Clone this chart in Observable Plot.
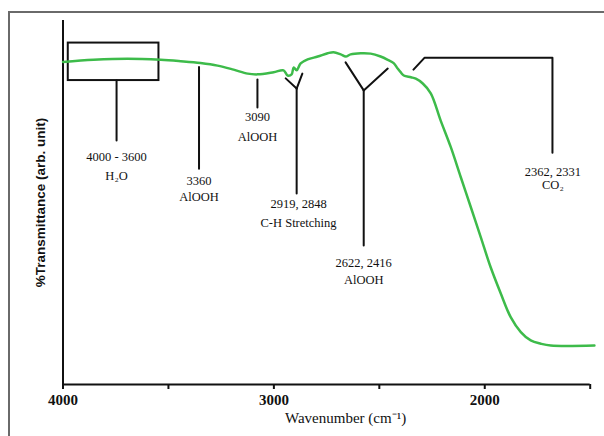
<!DOCTYPE html>
<html>
<head>
<meta charset="utf-8">
<script src="https://cdn.jsdelivr.net/npm/d3@7"></script>
<script src="https://cdn.jsdelivr.net/npm/@observablehq/plot@0.6"></script>
<style>
  html, body { margin: 0; padding: 0; background: #fff; }
  #wrap { position: relative; width: 604px; height: 436px; overflow: hidden; }
  #frame { position: absolute; left: 8px; top: 11px; width: 700px; height: 600px;
           border-left: 2px solid #6a6a6a; border-top: 2px solid #6a6a6a; }
  #chart { position: absolute; left: 0; top: 0; }
</style>
</head>
<body>
<div id="wrap"><div id="frame"></div><div id="chart"></div></div>
<script>
// FTIR spectrum (wavenumber in cm^-1, transmittance in arbitrary units)
const wavenumber = [4000, 3855, 3694, 3537, 3442, 3348, 3267, 3191, 3124, 3077, 3001, 2954, 2935, 2916, 2906, 2892, 2873, 2840, 2792, 2745, 2717, 2683, 2659, 2636, 2588, 2541, 2494, 2460, 2432, 2413, 2399, 2384, 2350, 2327, 2294, 2256, 2209, 2161, 2114, 2066, 2019, 1972, 1924, 1877, 1829, 1782, 1734, 1687, 1480];
const transmittance = [88.6, 89.2, 89.5, 89.2, 88.8, 88.3, 87.6, 86.5, 85.4, 85.2, 85.8, 86.3, 84.9, 85.2, 87.1, 86.3, 88.2, 89.3, 90.1, 91.0, 91.3, 90.7, 90.1, 90.7, 91.0, 90.9, 90.1, 89.2, 88.3, 86.8, 85.8, 84.9, 84.4, 84.0, 82.7, 80.0, 72.5, 65.2, 57.0, 48.7, 40.5, 32.2, 25.0, 18.5, 14.4, 12.1, 11.2, 10.7, 10.7];

// Axis ticks
const tickValues = [4000, 3500, 3000, 2500, 2000, 1500];
const tickLabels = ["4000", "", "3000", "", "2000", ""];

// H2O region box (4000 - 3600)
const boxWn = [3975, 3545];
const boxT = [83.5, 93.8];

// Annotation leader lines (polylines, grouped by id)
const leaderId = ["h2o","h2o", "a3360","a3360", "a3090","a3090",
  "ch1","ch1", "ch2","ch2", "ch3","ch3",
  "al1","al1", "al2","al2", "al3","al3",
  "co2","co2","co2","co2"];
const leaderWn = [3746, 3746, 3355, 3355, 3078, 3078,
  2944, 2892, 2865, 2892, 2892, 2892,
  2660, 2574, 2460, 2574, 2574, 2574,
  2338, 2285, 1679, 1679];
const leaderT = [83.5, 67.0, 87.2, 59.3, 83.8, 76.1,
  84.1, 81.3, 85.4, 81.3, 81.3, 52.5,
  88.5, 80.8, 86.8, 80.8, 80.8, 38.2,
  86.5, 89.8, 89.8, 63.7];

// Annotation labels
const labelText = ["4000 - 3600", "H\u2082O", "3360", "AlOOH", "3090", "AlOOH",
  "2919, 2848", "C-H Stretching", "2622, 2416", "AlOOH", "2362, 2331", "CO\u2082"];
const labelWn = [3746, 3746, 3355, 3355, 3078, 3078, 2883, 2883, 2574, 2574, 1677, 1677];
const labelT = [62.6, 57.4, 56.0, 51.4, 73.4, 68.1, 49.5, 44.5, 33.5, 28.6, 58.5, 54.9];

const spectrum = wavenumber.map((w, i) => ({w, t: transmittance[i]}));
const leaders = leaderId.map((id, i) => ({id, w: leaderWn[i], t: leaderT[i]}));
const labels = labelText.map((s, i) => ({s, w: labelWn[i], t: labelT[i]}));
const tickFmt = new Map(tickValues.map((v, i) => [v, tickLabels[i]]));

const serif = "'Liberation Serif', 'Times New Roman', serif";

const chart = Plot.plot({
  width: 604,
  height: 436,
  marginLeft: 62.5,
  marginRight: 14.3,
  marginTop: 20,
  marginBottom: 52,
  style: {background: "transparent", overflow: "visible"},
  x: {domain: [4000, 1500], axis: null},
  y: {domain: [0, 100], axis: null},
  marks: [
    Plot.axisX({ticks: tickValues, tickFormat: d => tickFmt.get(d), tickSize: 5, tickPadding: 5,
      stroke: "#111", strokeWidth: 2, fill: "#111", fontSize: 15, fontWeight: "bold",
      fontFamily: serif, label: null}),
    Plot.ruleY([0], {stroke: "#111", strokeWidth: 2}),
    Plot.ruleX([4000], {stroke: "#111", strokeWidth: 2}),
    Plot.rect([{}], {x1: () => boxWn[0], x2: () => boxWn[1], y1: () => boxT[0], y2: () => boxT[1],
      fill: "none", stroke: "#111", strokeWidth: 2}),
    Plot.line(leaders, {x: "w", y: "t", z: "id", stroke: "#111", strokeWidth: 2, curve: "linear"}),
    Plot.line(spectrum, {x: "w", y: "t", stroke: "#3dbb4a", strokeWidth: 2.5, curve: "catmull-rom"}),
    Plot.text(labels, {x: "w", y: "t", text: "s", fill: "#111", fontSize: 12.5, fontFamily: serif}),
    Plot.text(["Wavenumber (cm\u207B\u00B9)"], {x: () => 2660, frameAnchor: "bottom", dy: 38,
      fill: "#111", fontSize: 15, fontFamily: serif}),
    Plot.text(["%Transmittance (arb. unit)"], {frameAnchor: "left", textAnchor: "middle", dx: -22.5, rotate: -90,
      fill: "#111", fontSize: 13.5, fontWeight: "bold", fontFamily: "'Liberation Sans', Arial, sans-serif"})
  ]
});
document.getElementById("chart").appendChild(chart);
</script>
</body>
</html>
